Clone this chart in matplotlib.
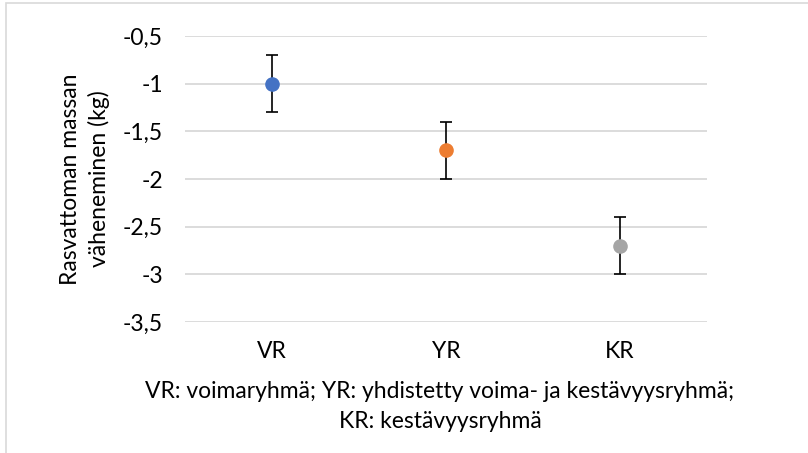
import matplotlib.pyplot as plt
from matplotlib.patches import Rectangle
from matplotlib.ticker import FuncFormatter

plt.rcParams['font.family'] = ['Lato', 'DejaVu Sans']

groups = ['VR', 'YR', 'KR']
means = [-1.0, -1.7, -2.7]
errors = [0.3, 0.3, 0.3]
colors = ['#4472C4', '#ED7D31', '#A5A5A5']
yticks = [-3.5, -3.0, -2.5, -2.0, -1.5, -1.0, -0.5]

fs = 16.5

fig = plt.figure(figsize=(8.08, 4.53), dpi=100)
ax = fig.add_axes([185 / 808, 1 - 322 / 453, (707 - 185) / 808, (322 - 36) / 453])

for i, (m, e, c) in enumerate(zip(means, errors, colors)):
    ax.errorbar(i, m, yerr=e, fmt='none', ecolor='black', elinewidth=1.2,
                capsize=4.5, capthick=1.2, zorder=3)
    ax.plot(i, m, 'o', color=c, markersize=9.5, zorder=4)

ax.set_xlim(-0.5, 2.5)
ax.set_ylim(-3.5, -0.5)
ax.set_yticks(yticks)
ax.yaxis.set_major_formatter(FuncFormatter(lambda v, p: ('%g' % v).replace('.', ',')))
ax.set_xticks(range(len(groups)))
ax.set_xticklabels(groups)
ax.grid(axis='y', color='#D9D9D9', linewidth=1.3)
ax.set_axisbelow(True)
for s in ax.spines.values():
    s.set_visible(False)
ax.tick_params(length=0, labelsize=fs, colors='black')
ax.tick_params(axis='y', pad=16)
ax.tick_params(axis='x', pad=14)

ax.set_ylabel('Rasvattoman massan\nväheneminen (kg)', fontsize=fs, labelpad=9,
              linespacing=1.4)

fig.text(440 / 808, 1 - 391 / 453, 'VR: voimaryhmä; YR: yhdistetty voima- ja kestävyysryhmä;',
         ha='center', va='center', fontsize=fs)
fig.text(440 / 808, 1 - 421 / 453, 'KR: kestävyysryhmä',
         ha='center', va='center', fontsize=fs)

fig.patches.append(Rectangle((6 / 808, -0.1), 1.2, 1.1 - 3 / 453, transform=fig.transFigure,
                             fill=False, edgecolor='#D9D9D9', linewidth=1.2))

fig.savefig('out.png', dpi=100)
